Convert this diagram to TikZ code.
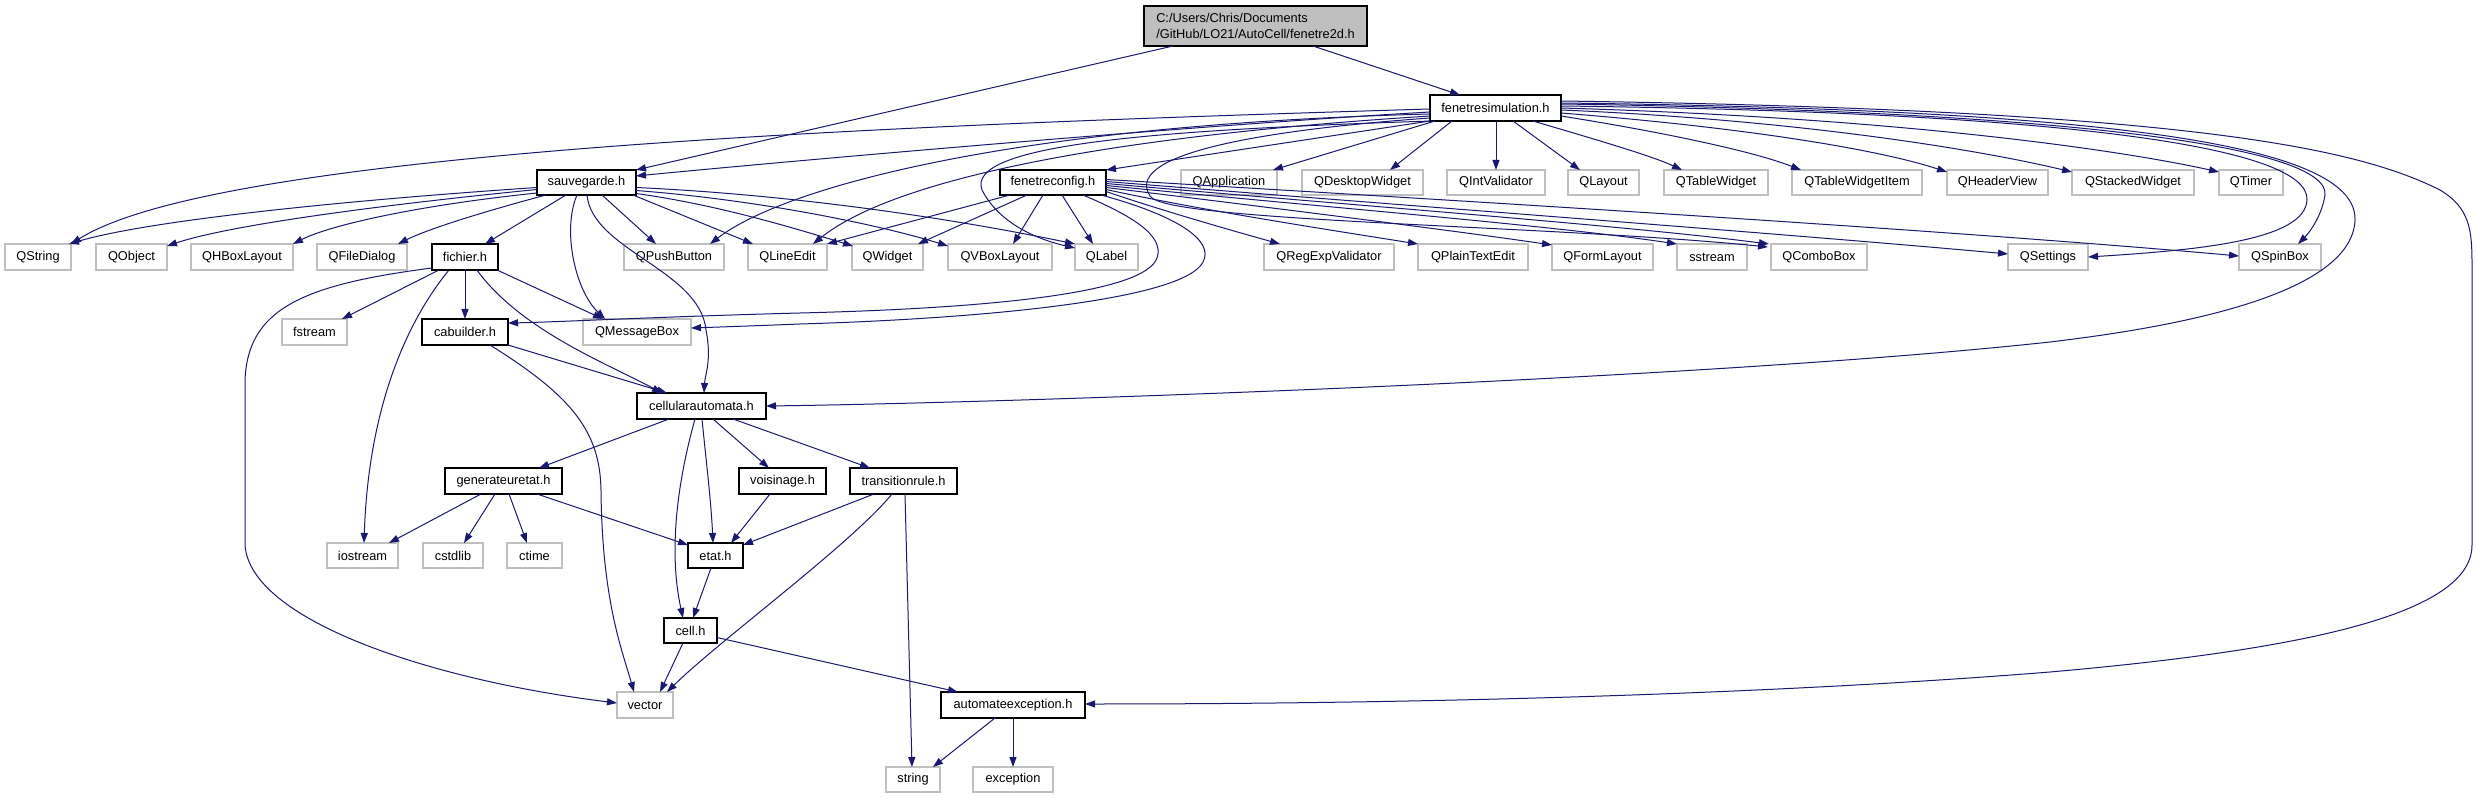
\documentclass[tikz,border=0pt]{standalone}
\usepackage{fontspec}
\setmainfont{Liberation Sans}
\usetikzlibrary{arrows.meta,calc}
\definecolor{edgeblue}{HTML}{191970}
\definecolor{grayborder}{HTML}{BFBFBF}
\definecolor{rootfill}{HTML}{BFBFBF}
\newcommand\nd[7]{%
  \pgfmathsetmacro\ndw{#4-#3}\pgfmathsetmacro\ndh{#6-#5}%
  \pgfmathsetmacro\ndx{(#3+#4)/2}\pgfmathsetmacro\ndy{(#5+#6)/2}%
  \node[#1, minimum width=\ndw pt, minimum height=\ndh pt] (#2) at (\ndx,\ndy) {#7};}
\begin{document}
\begin{tikzpicture}[x=1pt,y=-1pt,
  base/.style={rectangle, inner sep=0pt, outer sep=0pt, font=\fontsize{12.8}{16}\selectfont, fill=white},
  ext/.style={base, draw=grayborder, line width=1.2pt},
  loc/.style={base, draw=black, line width=1.3pt},
  rootnode/.style={base, draw=black, line width=1.2pt, fill=rootfill, align=left},
  e/.style={draw=edgeblue, line width=1pt, -{Triangle[length=10pt,width=7pt]}}]
\fill[white] (0,0) rectangle (2477,799);
\useasboundingbox (0,0) rectangle (2477,799);

% nodes
\nd{rootnode}{root}{1144}{1367}{6}{46}{C:/Users/Chris/Documents\\/GitHub/LO21/AutoCell/fenetre2d.h}
\nd{loc}{fsim}{1430}{1561}{95}{121}{fenetresimulation.h}
\nd{loc}{sauv}{537}{636}{170}{195}{sauvegarde.h}
\nd{loc}{fconf}{1000}{1106}{170}{195}{fenetreconfig.h}
\nd{ext}{qapp}{1181}{1277}{170}{195}{QApplication}
\nd{ext}{qdesk}{1302}{1423}{170}{195}{QDesktopWidget}
\nd{ext}{qint}{1447}{1545}{170}{195}{QIntValidator}
\nd{ext}{qlay}{1568}{1639}{170}{195}{QLayout}
\nd{ext}{qtw}{1664}{1768}{170}{195}{QTableWidget}
\nd{ext}{qtwi}{1792}{1922}{170}{195}{QTableWidgetItem}
\nd{ext}{qhv}{1947}{2048}{170}{195}{QHeaderView}
\nd{ext}{qsw}{2072}{2194}{170}{195}{QStackedWidget}
\nd{ext}{qtim}{2219}{2283}{170}{195}{QTimer}
\nd{ext}{qstr}{5}{71}{244}{270}{QString}
\nd{ext}{qobj}{96}{167}{244}{270}{QObject}
\nd{ext}{qhbox}{191}{293}{244}{270}{QHBoxLayout}
\nd{ext}{qfd}{317}{407}{244}{270}{QFileDialog}
\nd{loc}{fich}{432}{498}{244}{270}{fichier.h}
\nd{ext}{qpb}{624}{724}{244}{270}{QPushButton}
\nd{ext}{qle}{748}{827}{244}{270}{QLineEdit}
\nd{ext}{qw}{852}{923}{244}{270}{QWidget}
\nd{ext}{qvbox}{948}{1052}{244}{270}{QVBoxLayout}
\nd{ext}{qlab}{1075}{1138}{244}{270}{QLabel}
\nd{ext}{qrev}{1264}{1394}{244}{270}{QRegExpValidator}
\nd{ext}{qpte}{1418}{1528}{244}{270}{QPlainTextEdit}
\nd{ext}{qfl}{1552}{1653}{244}{270}{QFormLayout}
\nd{ext}{sstr}{1677}{1747}{244}{270}{sstream}
\nd{ext}{qcb}{1771}{1867}{244}{270}{QComboBox}
\nd{ext}{qset}{2008}{2088}{244}{270}{QSettings}
\nd{ext}{qsb}{2239}{2321}{244}{270}{QSpinBox}
\nd{ext}{fstr}{282}{347}{319}{345}{fstream}
\nd{loc}{cab}{422}{508}{319}{345}{cabuilder.h}
\nd{ext}{qmb}{583}{691}{319}{345}{QMessageBox}
\nd{loc}{ca}{637}{766}{393}{419}{cellularautomata.h}
\nd{loc}{gen}{445}{562}{468}{494}{generateuretat.h}
\nd{loc}{vois}{739}{826}{468}{494}{voisinage.h}
\nd{loc}{trans}{850}{957}{468}{494}{transitionrule.h}
\nd{ext}{iost}{327}{398}{543}{568}{iostream}
\nd{ext}{cstd}{423}{483}{543}{568}{cstdlib}
\nd{ext}{ctim}{507}{562}{543}{568}{ctime}
\nd{loc}{etat}{688}{743}{543}{568}{etat.h}
\nd{loc}{cell}{664}{717}{618}{643}{cell.h}
\nd{ext}{vec}{617}{673}{692}{718}{vector}
\nd{loc}{aexc}{941}{1085}{692}{718}{automateexception.h}
\nd{ext}{str}{886}{940}{767}{792}{string}
\nd{ext}{exc}{973}{1053}{767}{792}{exception}

% root
\draw[e] ($(root.south west)+(169,0)$) -- ($(fsim.north west)+(30,0)$);
\draw[e] ($(root.south west)+(29,0)$) -- (sauv.north east);

% fenetresimulation.h, leftwards
\draw[e] ($(fsim.north west)+(0,17)$) .. controls (1200,125) and (800,160) .. ($(sauv.north east)+(0,6)$);
\draw[e] ($(fsim.north west)+(0,14)$) .. controls (900,125) and (220,150) .. (qstr.north east);
\draw[e] ($(fsim.north west)+(0,19)$) .. controls (1000,125) and (780,190) .. ($(qpb.north west)+(86,0)$);
\draw[e] ($(fsim.north west)+(0,21)$) .. controls (1050,140) and (880,190) .. ($(qle.north west)+(65,0)$);
\draw[e] ($(fsim.south west)+(2,0)$) .. controls (1150,130) and (965,145) .. (982,190) .. controls (1000,225) and (1040,240) .. ($(qlab.west)+(0,-9)$);
\draw[e] ($(fsim.west)+(0,10)$) .. controls (1290,128) and (1120,150) .. (1150,196) .. controls (1165,222) and (1550,225) .. ($(qcb.north west)+(-3,3)$);
\draw[e] (fsim.south west) -- (fconf.north east);
\draw[e] ($(fsim.south west)+(5,0)$) -- ($(qapp.north east)+(-4,0)$);
\draw[e] ($(fsim.south west)+(22,0)$) -- ($(qdesk.north west)+(88,0)$);
\draw[e] ($(fsim.south west)+(66,0)$) -- ($(qint.north west)+(49,0)$);
\draw[e] ($(fsim.south west)+(83,0)$) -- ($(qlay.north west)+(12,0)$);
% fenetresimulation.h, rightwards
\draw[e] ($(fsim.south west)+(103,0)$) .. controls (1580,135) and (1650,155) .. ($(qtw.north west)+(18,0)$);
\draw[e] ($(fsim.east)+(0,8)$) .. controls (1650,130) and (1750,150) .. ($(qtwi.north west)+(9,0)$);
\draw[e] ($(fsim.east)+(0,5)$) .. controls (1750,128) and (1880,150) .. ($(qhv.north west)+(0,2)$);
\draw[e] ($(fsim.east)+(0,2)$) .. controls (1800,120) and (1980,150) .. ($(qsw.north west)+(0,2)$);
\draw[e] (fsim.east) .. controls (1900,118) and (2120,150) .. ($(qtim.north west)+(0,2)$);
\draw[e] ($(fsim.east)+(0,-2)$) .. controls (2050,112) and (2310,145) .. (2307,200) .. controls (2305,240) and (2200,250) .. (qset.east);
\draw[e] ($(fsim.east)+(0,-4)$) .. controls (2100,112) and (2330,150) .. (2325,195) .. controls (2322,215) and (2310,232) .. ($(qsb.north west)+(59,0)$);
\draw[e] ($(fsim.north east)+(0,8)$) .. controls (2150,110) and (2357,150) .. (2355,220) .. controls (2352,300) and (2150,330) .. (2050,342) .. controls (1700,380) and (1000,403) .. (ca.east);
\draw[e] ($(fsim.north east)+(0,6)$) .. controls (2200,110) and (2360,150) .. (2440,190) .. controls (2470,208) and (2472,230) .. (2472,265) -- (2472,545) .. controls (2472,615) and (2300,650) .. (2050,672) .. controls (1700,700) and (1300,704) .. ($(aexc.east)+(0,-1)$);

% sauvegarde.h
\draw[e] ($(sauv.west)+(0,5)$) .. controls (350,200) and (150,220) .. ($(qstr.north east)+(-2,0)$);
\draw[e] ($(sauv.west)+(0,7)$) .. controls (380,205) and (230,225) .. ($(qobj.north east)+(0,2)$);
\draw[e] ($(sauv.south west)+(0,-2)$) .. controls (420,205) and (330,225) .. (qhbox.north east);
\draw[e] ($(sauv.south west)+(9,0)$) .. controls (490,210) and (430,228) .. ($(qfd.north west)+(81,0)$);
\draw[e] ($(sauv.south west)+(29,0)$) -- ($(fich.north west)+(53,0)$);
\draw[e] ($(sauv.south west)+(40,0)$) .. controls (562,230) and (575,290) .. ($(qmb.north west)+(22,0)$);
\draw[e] ($(sauv.south west)+(50,0)$) .. controls (592,250) and (700,270) .. (706,330) .. controls (712,360) and (705,375) .. ($(ca.north west)+(67,0)$);
\draw[e] ($(sauv.south west)+(65,0)$) -- ($(qpb.north west)+(32,0)$);
\draw[e] ($(sauv.south east)+(-3,0)$) -- ($(qle.north west)+(5,0)$);
\draw[e] ($(sauv.east)+(0,11)$) .. controls (720,205) and (800,230) .. ($(qw.north west)+(1,2)$);
\draw[e] ($(sauv.east)+(0,8)$) .. controls (760,200) and (880,225) .. ($(qvbox.north west)+(0,2)$);
\draw[e] ($(sauv.east)+(0,5)$) .. controls (800,195) and (960,220) .. (qlab.north west);

% fenetreconfig.h
\draw[e] ($(fconf.south west)+(10,0)$) -- (qle.north east);
\draw[e] ($(fconf.south west)+(27,0)$) -- ($(qw.north west)+(66,0)$);
\draw[e] ($(fconf.south west)+(43,0)$) -- ($(qvbox.north west)+(65,0)$);
\draw[e] ($(fconf.south west)+(62,0)$) -- ($(qlab.north west)+(18,0)$);
\draw[e] ($(fconf.east)+(0,9)$) .. controls (1160,210) and (1230,230) .. ($(qrev.north west)+(16,0)$);
\draw[e] ($(fconf.east)+(0,7)$) .. controls (1200,210) and (1330,230) .. (qpte.north west);
\draw[e] ($(fconf.east)+(0,5)$) .. controls (1250,205) and (1450,230) .. ($(qfl.north west)+(0,1)$);
\draw[e] ($(fconf.east)+(0,3)$) .. controls (1300,205) and (1550,225) .. (sstr.north west);
\draw[e] ($(fconf.east)+(0,1)$) .. controls (1350,205) and (1620,225) .. ($(qcb.north west)+(-2,0)$);
\draw[e] ($(fconf.east)+(0,-1)$) .. controls (1400,205) and (1800,235) .. ($(qset.west)+(0,-3)$);
\draw[e] ($(fconf.east)+(0,-3)$) .. controls (1450,200) and (1950,230) .. ($(qsb.west)+(0,-1)$);
\draw[e] ($(fconf.south east)+(-23,0)$) .. controls (1130,215) and (1165,235) .. (1157,258) .. controls (1145,292) and (1000,308) .. (800,313) .. controls (650,317) and (560,322) .. ($(cab.north east)+(0,4)$);
\draw[e] ($(fconf.south east)+(-5,0)$) .. controls (1175,215) and (1215,240) .. (1203,262) .. controls (1185,298) and (1000,318) .. (800,324) .. controls (750,326) and (720,327) .. ($(qmb.east)+(0,-4)$);

% fichier.h
\draw[e] ($(fich.south west)+(0,-2)$) .. controls (300,285) and (248,310) .. (245,380) -- (245,545) .. controls (250,620) and (430,680) .. ($(vec.west)+(0,-2)$);
\draw[e] ($(fich.south west)+(7,0)$) -- ($(fstr.north east)+(-5,0)$);
\draw[e] ($(fich.south west)+(17,0)$) .. controls (400,330) and (368,420) .. ($(iost.north west)+(37,0)$);
\draw[e] (fich.south) -- (cab.north);
\draw[e] ($(fich.south west)+(45,0)$) .. controls (520,330) and (610,365) .. ($(ca.north west)+(25,0)$);
\draw[e] ($(fich.south east)+(-1,0)$) -- ($(qmb.north west)+(20,0)$);

% cabuilder.h
\draw[e] (cab.south east) -- ($(ca.north west)+(30,0)$);
\draw[e] ($(cab.south west)+(68,0)$) .. controls (570,395) and (600,430) .. (601,490) .. controls (602,600) and (622,650) .. ($(vec.north west)+(17,0)$);

% cellularautomata.h
\draw[e] ($(ca.south west)+(32,0)$) -- ($(gen.north west)+(94,0)$);
\draw[e] ($(ca.south west)+(76,0)$) -- ($(vois.north west)+(30,0)$);
\draw[e] ($(ca.south west)+(96,0)$) -- ($(trans.north west)+(20,0)$);
\draw[e] ($(ca.south west)+(65,0)$) .. controls (706,460) and (711,500) .. ($(etat.north west)+(25,0)$);
\draw[e] ($(ca.south west)+(58,0)$) .. controls (678,480) and (668,550) .. ($(cell.north west)+(19,0)$);

% generateuretat.h
\draw[e] ($(gen.south west)+(36,0)$) -- ($(iost.north east)+(-9,0)$);
\draw[e] ($(gen.south west)+(50,0)$) -- ($(cstd.north west)+(41,0)$);
\draw[e] ($(gen.south west)+(64,0)$) -- ($(ctim.north west)+(20,0)$);
\draw[e] ($(gen.south west)+(92,0)$) -- ($(etat.north west)+(0,2)$);

% voisinage.h, transitionrule.h
\draw[e] ($(vois.south west)+(31,0)$) -- ($(etat.north east)+(-12,0)$);
\draw[e] ($(trans.south west)+(24,0)$) -- ($(etat.north east)+(0,2)$);
\draw[e] ($(trans.south west)+(42,0)$) .. controls (850,545) and (720,640) .. ($(vec.north east)+(-6,0)$);
\draw[e] ($(trans.south west)+(55,0)$) -- ($(str.north west)+(26,0)$);

% etat.h, cell.h, automateexception.h
\draw[e] ($(etat.south west)+(23,0)$) -- ($(cell.north west)+(29,0)$);
\draw[e] ($(cell.south west)+(19,0)$) -- ($(vec.north west)+(43,0)$);
\draw[e] ($(cell.east)+(0,7)$) -- ($(aexc.north west)+(17,0)$);
\draw[e] ($(aexc.south west)+(54,0)$) -- ($(str.north east)+(-7,0)$);
\draw[e] (aexc.south) -- (exc.north);
\end{tikzpicture}
\end{document}
